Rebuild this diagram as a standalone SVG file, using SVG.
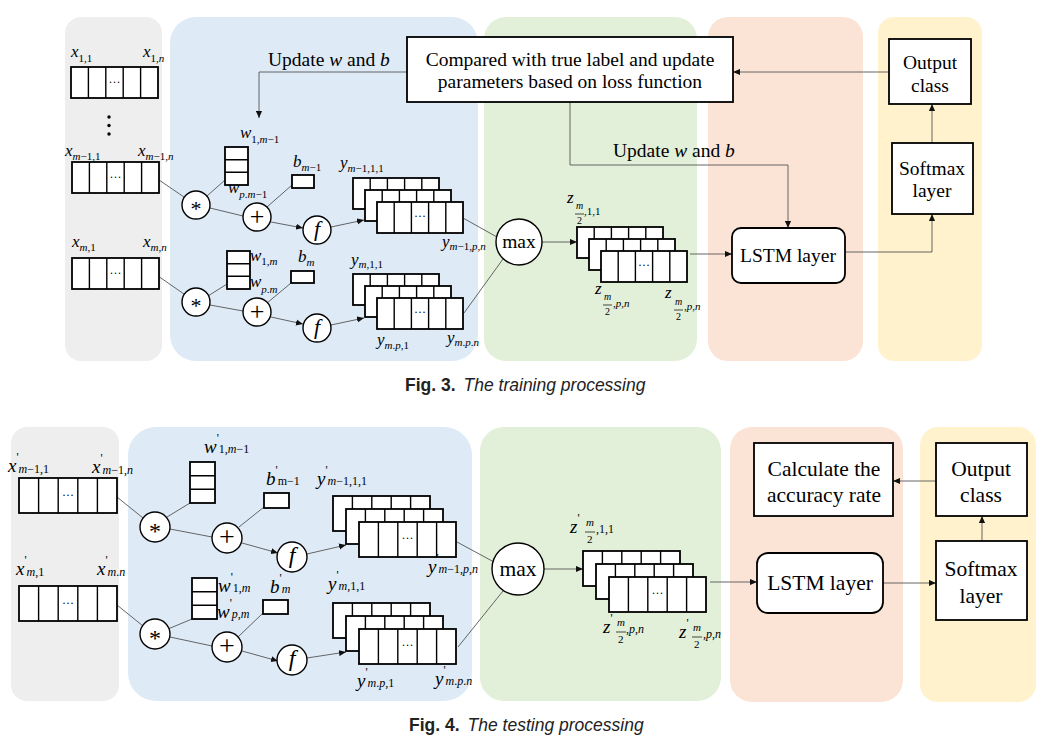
<svg xmlns="http://www.w3.org/2000/svg" width="1051" height="746" viewBox="0 0 1051 746">
<style>
.bgG{fill:#eeeeee}.bgB{fill:#deeaf6}.bgN{fill:#e2efd9}.bgP{fill:#fbe4d5}.bgY{fill:#fff2cc}
.bx{fill:#fff;stroke:#000;stroke-width:1.8}
.dv{stroke:#000;stroke-width:1.4;fill:none}
.ci{fill:#fff;stroke:#000;stroke-width:1.4}
.ln{fill:none;stroke:#555;stroke-width:0.9}
.ar{marker-end:url(#ah)}
.fb{stroke:#000;stroke-width:0.7}
.t1{font-family:"Liberation Serif","Times New Roman",serif;font-size:19.5px;fill:#000;text-anchor:middle}
.t2{font-family:"Liberation Serif","Times New Roman",serif;font-size:21.5px;fill:#000;text-anchor:middle}
.tl{font-family:"Liberation Serif","Times New Roman",serif;font-size:19.5px;fill:#000}
.v{font-family:"Liberation Serif","Times New Roman",serif;font-style:italic;font-size:17px;fill:#000}
.v2{font-family:"Liberation Serif","Times New Roman",serif;font-style:italic;font-size:19px;fill:#000}
.s{font-size:11px}
.s2{font-size:12px}
.f10{font-size:10px}
.f11{font-size:11px}
.f12{font-size:12px}
.r{font-style:normal}
.dots{font-family:"Liberation Serif",serif;font-size:12px;text-anchor:middle}
.op{font-family:"Liberation Serif",serif;text-anchor:middle;fill:#000}
.cap{font-family:"Liberation Sans",Arial,sans-serif;font-size:17.5px;fill:#222}
</style>
<defs>
<marker id="ah" viewBox="0 0 8 8" refX="8" refY="4" markerWidth="7" markerHeight="7" markerUnits="userSpaceOnUse" orient="auto"><path d="M0,0.5 L8,4 L0,7.5z" fill="#111"/></marker>
<g id="rowT"><rect class="bx" width="87" height="31"/><path class="dv" d="M17.4,0v31M34.8,0v31M52.2,0v31M69.6,0v31"/><text class="dots" x="43.5" y="19">···</text></g>
<g id="rowB"><rect class="bx" width="98" height="35"/><path class="dv" d="M19.6,0v35M39.2,0v35M58.8,0v35M78.4,0v35"/><text class="dots" x="49" y="21">···</text></g>
<g id="stkT">
<rect class="bx" width="86" height="31"/><path class="dv" d="M17.2,0v31M34.4,0v31M51.6,0v31M68.8,0v31"/>
<rect class="bx" x="12" y="12" width="86" height="31"/><path class="dv" d="M29.2,12v31M46.4,12v31M63.6,12v31M80.8,12v31"/>
<rect class="bx" x="24" y="24" width="86" height="31"/><path class="dv" d="M41.2,24v31M58.4,24v31M75.6,24v31M92.8,24v31"/>
<text class="dots" x="67" y="42">···</text>
</g>
<g id="stkB">
<rect class="bx" width="97" height="35"/><path class="dv" d="M19.4,0v35M38.8,0v35M58.2,0v35M77.6,0v35"/>
<rect class="bx" x="13" y="13" width="97" height="35"/><path class="dv" d="M32.4,13v35M51.8,13v35M71.2,13v35M90.6,13v35"/>
<rect class="bx" x="26" y="26" width="97" height="35"/><path class="dv" d="M45.4,26v35M64.8,26v35M84.2,26v35M103.6,26v35"/>
<text class="dots" x="74.5" y="46">···</text>
</g>
<g id="wT"><rect class="bx" width="23" height="38"/><path class="dv" d="M0,12.7h23M0,25.3h23"/></g>
<g id="wB"><rect class="bx" width="25" height="41"/><path class="dv" d="M0,13.7h25M0,27.3h25"/></g>
</defs>

<!-- ===== Fig 3 backgrounds ===== -->
<g id="panels-top">
<rect class="bgG" x="65" y="17" width="97" height="344" rx="16"/>
<rect class="bgB" x="170" y="17" width="308" height="344" rx="26"/>
<rect class="bgN" x="484" y="17" width="213" height="344" rx="22"/>
<rect class="bgP" x="708" y="17" width="155" height="344" rx="20"/>
<rect class="bgY" x="878" y="17" width="104" height="344" rx="16"/>
</g>

<!-- connectors top -->
<g id="connectors-top">
<path class="ln ar" d="M407,72 H259 V118"/>
<path class="ln ar" d="M889,72 H733"/>
<path class="ln ar" d="M570,102 V165 H788 V228"/>
<path class="ln ar" d="M932,143 V104"/>
<path class="ln ar" d="M845,252 H932 V214"/>
<path class="ln ar" d="M690,254 H732"/>
<path class="ln ar" d="M542,242 H577"/>
<path class="ln" d="M159,180 L184,197"/>
<path class="ln" d="M158,276 L184,294"/>
<path class="ln" d="M225,180 L207,196"/>
<path class="ln" d="M227,284 L208,296"/>
<path class="ln" d="M210,208 L243,216"/>
<path class="ln" d="M292,185 L267,207"/>
<path class="ln ar" d="M271,222 L303,228"/>
<path class="ln ar" d="M331,227 L364,220"/>
<path class="ln" d="M210,305 L243,311"/>
<path class="ln" d="M291,283 L267,303"/>
<path class="ln ar" d="M271,317 L303,324"/>
<path class="ln ar" d="M331,325 L364,318"/>
<path class="ln" d="M463,218 L497,237"/>
<path class="ln" d="M464,313 L503,259"/>
</g>

<!-- inputs top -->
<g id="in-row1"><use href="#rowT" x="71" y="67"/>
<text class="v" x="71" y="57">x<tspan class="s r" dy="5">1,1</tspan></text>
<text class="v" x="143" y="57">x<tspan class="s" dy="5"><tspan class="r">1,</tspan>n</tspan></text></g>
<g id="in-dots"><circle cx="109" cy="117" r="1.7"/><circle cx="109" cy="125.5" r="1.7"/><circle cx="109" cy="134" r="1.7"/></g>
<g id="in-row2"><use href="#rowT" x="72" y="162"/>
<text class="v" x="65" y="156">x<tspan class="s" dy="4">m<tspan class="r">−1,1</tspan></tspan></text>
<text class="v" x="138" y="156">x<tspan class="s" dy="4">m<tspan class="r">−1,</tspan>n</tspan></text></g>
<g id="in-row3"><use href="#rowT" x="72" y="258"/>
<text class="v" x="72" y="247">x<tspan class="s" dy="4">m<tspan class="r">,1</tspan></tspan></text>
<text class="v" x="143" y="247">x<tspan class="s" dy="4">m<tspan class="r">,</tspan>n</tspan></text></g>

<!-- conv upper -->
<g id="w-upper"><use href="#wT" x="225" y="147"/>
<text class="v" x="240" y="138">w<tspan class="s" dy="5"><tspan class="r">1,</tspan>m<tspan class="r">−1</tspan></tspan></text>
<text class="v" x="228" y="193">w<tspan class="s" dy="5">p<tspan class="r">.</tspan>m<tspan class="r">−1</tspan></tspan></text></g>
<g id="b-upper"><rect class="bx" x="292" y="175" width="22" height="13"/>
<text class="v" x="293" y="167">b<tspan class="s" dy="4">m<tspan class="r">−1</tspan></tspan></text></g>
<g id="mul-upper"><circle class="ci" cx="196" cy="205" r="14"/><text class="op" x="196" y="216" font-size="22">*</text></g>
<g id="add-upper"><circle class="ci" cx="257" cy="217" r="14"/><text class="op" x="257" y="225" font-size="26">+</text></g>
<g id="f-upper"><circle class="ci" cx="317" cy="230" r="14"/><text class="op" x="317" y="236" font-size="22" font-style="italic">f</text></g>
<g id="y-upper"><use href="#stkT" x="353" y="178"/>
<text class="v" x="340" y="168">y<tspan class="s" dy="4">m<tspan class="r">−1,1,1</tspan></tspan></text>
<text class="v" x="442" y="247">y<tspan class="s" dy="3">m<tspan class="r">−1,</tspan>p<tspan class="r">,</tspan>n</tspan></text></g>

<!-- conv lower -->
<g id="w-lower"><use href="#wT" x="227" y="251"/>
<text class="v" x="250" y="261">w<tspan class="s" dy="4"><tspan class="r">1,</tspan>m</tspan></text>
<text class="v" x="250" y="287">w<tspan class="s" dy="6">p<tspan class="r">.</tspan>m</tspan></text></g>
<g id="b-lower"><rect class="bx" x="291" y="271" width="23" height="12"/>
<text class="v" x="298" y="262">b<tspan class="s" dy="4">m</tspan></text></g>
<g id="mul-lower"><circle class="ci" cx="196" cy="302" r="14"/><text class="op" x="196" y="313" font-size="22">*</text></g>
<g id="add-lower"><circle class="ci" cx="257" cy="312" r="14"/><text class="op" x="257" y="320" font-size="26">+</text></g>
<g id="f-lower"><circle class="ci" cx="317" cy="328" r="14"/><text class="op" x="317" y="334" font-size="22" font-style="italic">f</text></g>
<g id="y-lower"><use href="#stkT" x="353" y="274"/>
<text class="v" x="351" y="265">y<tspan class="s" dy="3">m<tspan class="r">,1,1</tspan></tspan></text>
<text class="v" x="377" y="345">y<tspan class="s" dy="4">m<tspan class="r">.</tspan>p<tspan class="r">,1</tspan></tspan></text>
<text class="v" x="447" y="343">y<tspan class="s" dy="3">m<tspan class="r">.</tspan>p<tspan class="r">.</tspan>n</tspan></text></g>

<g id="max-top"><circle class="ci" cx="519" cy="242" r="23"/><text class="t1" x="519" y="248">max</text></g>
<g id="z-top"><use href="#stkT" x="577" y="227"/>
<text class="v" x="567" y="203">z</text>
<text class="v f10" x="576" y="209">m</text>
<line class="fb" x1="575" y1="214" x2="584" y2="214"/>
<text class="v r f10" x="577" y="224">2</text>
<text class="v r f11" x="584" y="215">,1,1</text>
<text class="v" x="595" y="294">z</text>
<text class="v f10" x="604" y="300">m</text>
<line class="fb" x1="603" y1="305" x2="612" y2="305"/>
<text class="v r f10" x="605" y="315">2</text>
<text class="v f11" x="613" y="307"><tspan class="r">,</tspan>p<tspan class="r">,</tspan>n</text>
<text class="v" x="665" y="298">z</text>
<text class="v f10" x="675" y="305">m</text>
<line class="fb" x1="674" y1="310" x2="683" y2="310"/>
<text class="v r f10" x="676" y="320">2</text>
<text class="v f11" x="684" y="310"><tspan class="r">,</tspan>p<tspan class="r">,</tspan>n</text></g>

<g id="compare"><rect class="bx" x="407" y="37" width="326" height="65"/>
<text class="t1" x="570" y="66">Compared with true label and update</text>
<text class="t1" x="570" y="88">parameters based on loss function</text></g>
<g id="upd-left"><text class="tl" x="268" y="66">Update <tspan font-style="italic">w</tspan> and <tspan font-style="italic">b</tspan></text></g>
<g id="upd-mid"><text class="tl" x="613" y="157">Update <tspan font-style="italic">w</tspan> and <tspan font-style="italic">b</tspan></text></g>
<g id="lstm-top"><rect class="bx" x="732" y="228" width="113" height="55" rx="9"/><text class="t1" x="788" y="262">LSTM layer</text></g>
<g id="softmax-top"><rect class="bx" x="892" y="143" width="81" height="71"/><text class="t1" x="932" y="175">Softmax</text><text class="t1" x="932" y="197">layer</text></g>
<g id="output-top"><rect class="bx" x="889" y="39" width="82" height="65"/><text class="t1" x="930" y="69">Output</text><text class="t1" x="930" y="92">class</text></g>

<text class="cap" x="405" y="391"><tspan font-weight="bold">Fig. 3.</tspan><tspan font-style="italic" dx="8">The training processing</tspan></text>

<!-- ===== Fig 4 ===== -->
<g id="panels-bottom">
<rect class="bgG" x="11" y="427" width="108" height="274" rx="16"/>
<rect class="bgB" x="128" y="427" width="344" height="274" rx="28"/>
<rect class="bgN" x="480" y="427" width="241" height="274" rx="24"/>
<rect class="bgP" x="730" y="427" width="173" height="275" rx="22"/>
<rect class="bgY" x="920" y="427" width="116" height="275" rx="18"/>
</g>

<g id="connectors-bottom">
<path class="ln ar" d="M936,481 H893"/>
<path class="ln ar" d="M982,541 V516"/>
<path class="ln ar" d="M883,583 H936"/>
<path class="ln ar" d="M710,582 H757"/>
<path class="ln ar" d="M544,569 H583"/>
<path class="ln" d="M117,497 L143,518"/>
<path class="ln" d="M117,605 L143,626"/>
<path class="ln" d="M190,503 L167,517"/>
<path class="ln" d="M170,529 L212,537"/>
<path class="ln" d="M264,507 L239,527"/>
<path class="ln ar" d="M242,543 L278,553"/>
<path class="ln ar" d="M307,554 L346,545"/>
<path class="ln" d="M192,619 L168,629"/>
<path class="ln" d="M170,637 L212,646"/>
<path class="ln" d="M263,613 L238,637"/>
<path class="ln ar" d="M242,651 L278,661"/>
<path class="ln ar" d="M307,658 L346,652"/>
<path class="ln" d="M457,542 L494,562"/>
<path class="ln" d="M458,647 L503,591"/>
</g>

<g id="in2-row1"><use href="#rowB" x="19" y="478"/>
<text class="v2" x="8" y="472">x<tspan class="s2 r" dy="-11">'</tspan><tspan class="s2" dy="12">m<tspan class="r">−1,1</tspan></tspan></text>
<text class="v2" x="92" y="473">x<tspan class="s2 r" dy="-11">'</tspan><tspan class="s2" dy="12">m<tspan class="r">−1,</tspan>n</tspan></text></g>
<g id="in2-row2"><use href="#rowB" x="19" y="586"/>
<text class="v2" x="16" y="575">x<tspan class="s2 r" dy="-11">'</tspan><tspan class="s2" dy="12">m<tspan class="r">,1</tspan></tspan></text>
<text class="v2" x="97" y="575">x<tspan class="s2 r" dy="-11">'</tspan><tspan class="s2" dy="12">m<tspan class="r">.</tspan>n</tspan></text></g>

<g id="w2-upper"><use href="#wB" x="190" y="462"/>
<text class="v2" x="204" y="453">w<tspan class="s2 r" dy="-11">'</tspan><tspan class="s2" dy="11"><tspan class="r">1,</tspan>m<tspan class="r">−1</tspan></tspan></text></g>
<g id="b2-upper"><rect class="bx" x="264" y="493" width="25" height="15"/>
<text class="v2" x="266" y="485">b<tspan class="s2 r" dy="-11">'</tspan><tspan class="s2 r" dy="11">m−1</tspan></text></g>
<g id="mul2-upper"><circle class="ci" cx="155" cy="527" r="15"/><text class="op" x="155" y="539" font-size="24">*</text></g>
<g id="add2-upper"><circle class="ci" cx="227" cy="538" r="15"/><text class="op" x="227" y="546" font-size="28">+</text></g>
<g id="f2-upper"><circle class="ci" cx="292" cy="557" r="15"/><text class="op" x="292" y="563" font-size="24" font-style="italic">f</text></g>
<g id="y2-upper"><use href="#stkB" x="333" y="496"/>
<text class="v2" x="317" y="485">y<tspan class="s2 r" dy="-11">'</tspan><tspan class="s2" dy="11">m<tspan class="r">−1,1,1</tspan></tspan></text>
<text class="v2" x="428" y="573">y<tspan class="s2 r" dy="-11">'</tspan><tspan class="s2" dy="11">m<tspan class="r">−1,</tspan>p<tspan class="r">,</tspan>n</tspan></text></g>

<g id="w2-lower"><use href="#wB" x="192" y="578"/>
<text class="v2" x="218" y="592">w<tspan class="s2 r" dy="-11">'</tspan><tspan class="s2" dy="11"><tspan class="r">1,</tspan>m</tspan></text>
<text class="v2" x="217" y="618">w<tspan class="s2 r" dy="-11">'</tspan><tspan class="s2" dy="11">p<tspan class="r">,</tspan>m</tspan></text></g>
<g id="b2-lower"><rect class="bx" x="263" y="600" width="25" height="14"/>
<text class="v2" x="270" y="593">b<tspan class="s2 r" dy="-11">'</tspan><tspan class="s2" dy="11">m</tspan></text></g>
<g id="mul2-lower"><circle class="ci" cx="155" cy="634" r="15"/><text class="op" x="155" y="646" font-size="24">*</text></g>
<g id="add2-lower"><circle class="ci" cx="227" cy="647" r="15"/><text class="op" x="227" y="655" font-size="28">+</text></g>
<g id="f2-lower"><circle class="ci" cx="292" cy="660" r="15"/><text class="op" x="292" y="666" font-size="24" font-style="italic">f</text></g>
<g id="y2-lower"><use href="#stkB" x="333" y="603"/>
<text class="v2" x="328" y="590">y<tspan class="s2 r" dy="-11">'</tspan><tspan class="s2" dy="11">m<tspan class="r">,1,1</tspan></tspan></text>
<text class="v2" x="357" y="687">y<tspan class="s2 r" dy="-11">'</tspan><tspan class="s2" dy="11">m<tspan class="r">.</tspan>p<tspan class="r">,1</tspan></tspan></text>
<text class="v2" x="435" y="685">y<tspan class="s2 r" dy="-11">'</tspan><tspan class="s2" dy="11">m<tspan class="r">.</tspan>p<tspan class="r">.</tspan>n</tspan></text></g>

<g id="max-bottom"><circle class="ci" cx="518" cy="569" r="26"/><text class="t2" x="518" y="576">max</text></g>
<g id="z2"><use href="#stkB" x="583" y="551"/>
<text class="v2" x="570" y="533">z<tspan class="s2 r" dy="-11">'</tspan></text>
<text class="v f11" x="586" y="526">m</text>
<line class="fb" x1="585" y1="532" x2="595" y2="532"/>
<text class="v r f11" x="587" y="543">2</text>
<text class="v r f12" x="596" y="533">,1,1</text>
<text class="v2" x="603" y="633">z<tspan class="s2 r" dy="-11">'</tspan></text>
<text class="v f11" x="617" y="626">m</text>
<line class="fb" x1="616" y1="632" x2="626" y2="632"/>
<text class="v r f11" x="618" y="643">2</text>
<text class="v f12" x="626" y="633"><tspan class="r">,</tspan>p<tspan class="r">,</tspan>n</text>
<text class="v2" x="679" y="638">z<tspan class="s2 r" dy="-11">'</tspan></text>
<text class="v f11" x="693" y="631">m</text>
<line class="fb" x1="692" y1="637" x2="702" y2="637"/>
<text class="v r f11" x="694" y="648">2</text>
<text class="v f12" x="703" y="638"><tspan class="r">,</tspan>p<tspan class="r">,</tspan>n</text></g>

<g id="lstm-bottom"><rect class="bx" x="757" y="553" width="126" height="60" rx="11"/><text class="t2" x="820" y="590">LSTM layer</text></g>
<g id="softmax-bottom"><rect class="bx" x="936" y="541" width="91" height="79"/><text class="t2" x="981" y="576">Softmax</text><text class="t2" x="981" y="603">layer</text></g>
<g id="output-bottom"><rect class="bx" x="936" y="443" width="91" height="73"/><text class="t2" x="981" y="476">Output</text><text class="t2" x="981" y="502">class</text></g>
<g id="calc"><rect class="bx" x="754" y="443" width="139" height="73"/><text class="t2" x="824" y="476">Calculate the</text><text class="t2" x="824" y="502">accuracy rate</text></g>

<text class="cap" x="409" y="731"><tspan font-weight="bold">Fig. 4.</tspan><tspan font-style="italic" dx="8">The testing processing</tspan></text>
</svg>
